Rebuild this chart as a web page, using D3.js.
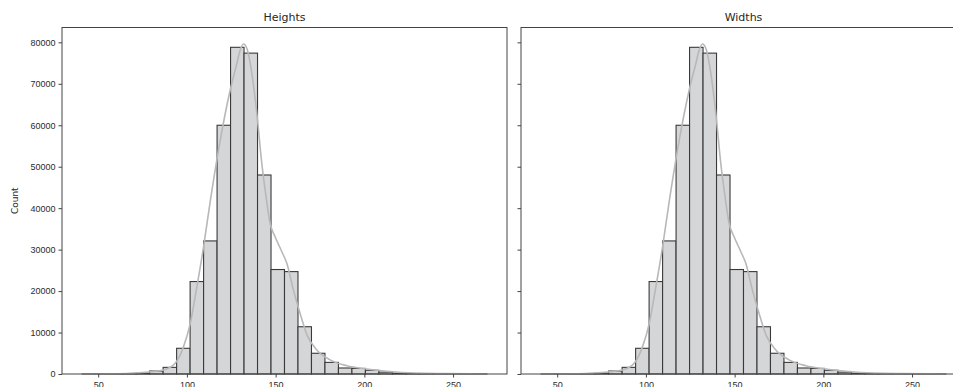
<!DOCTYPE html>
<html>
<head>
<meta charset="utf-8">
<script src="https://cdn.jsdelivr.net/npm/d3@7"></script>
<style>
    body { margin: 0; background: #fff; }
    svg { display: block; font-family: "DejaVu Sans", sans-serif; }
    .tick text { fill: #2b2b2b; font-size: 9px; }
    .axis path, .axis line { stroke: #444; }
</style>
</head>
<body>
<div id="chart-area"></div>
<script>

// Histogram data (30 bins)
let binEdges = [41, 48.6, 56.2, 63.8, 71.4, 79, 86.6, 94.2, 101.8, 109.4, 117, 124.6, 132.2, 139.8,
    147.4, 155, 162.6, 170.2, 177.8, 185.4, 193, 200.6, 208.2, 215.8, 223.4, 231, 238.6, 246.2,
    253.8, 261.4, 269];

let heightCounts = [10, 20, 40, 100, 200, 720, 1600, 6200, 22300, 32100, 60000, 78800, 77400, 48000,
    25200, 24700, 11400, 5000, 2800, 1450, 1350, 900, 450, 200, 100, 60, 40, 20, 15, 10];

let widthCounts = [10, 20, 40, 100, 200, 720, 1600, 6200, 22300, 32100, 60000, 78800, 77400, 48000,
    25200, 24700, 11400, 5000, 2800, 1450, 1350, 900, 450, 200, 100, 60, 40, 20, 15, 10];

// KDE curve
let kdeX = [41, 55, 66, 73, 80, 86.8, 93.4, 98.1, 101.9, 105.6, 109.4, 113.1, 117.8, 124.4, 128.2,
    130, 131.9, 134, 136.6, 139.4, 142.2, 144.6, 146.9, 149.7, 153.5, 156.3, 160, 163.8, 167.6,
    173.2, 180.7, 190.1, 201.4, 212.7, 229, 245, 269];
let kdeY = [5, 30, 120, 280, 550, 960, 2600, 6600, 12200, 21000, 30700, 41500, 54000, 68500, 75000,
    78100, 79600, 78300, 72500, 62900, 50800, 42800, 36300, 33100, 29500, 26700, 20300, 14600, 9500,
    5800, 3400, 2000, 1200, 650, 200, 80, 10];

let xTicks = [50, 100, 150, 200, 250];
let yTicks = [0, 10000, 20000, 30000, 40000, 50000, 60000, 70000, 80000];

let panels = [
    {title: "Heights", counts: heightCounts, left: 62, showLabels: true},
    {title: "Widths", counts: widthCounts, left: 521, showLabels: false}
];

// SVG drawing area
let width = 953, height = 387;
let panelWidth = 445;
let top0 = 27.5, bottom0 = 374;

let svg = d3.select("#chart-area").append("svg")
    .attr("width", width)
    .attr("height", height);

// Shared y scale (5% headroom above the KDE peak)
let y = d3.scaleLinear()
    .domain([0, d3.max(kdeY) * 1.05])
    .range([bottom0, top0]);

let bins = heightCounts.map(function (c, i) {
    return {x0: binEdges[i], x1: binEdges[i + 1]};
});

panels.forEach(function (p) {

    let x = d3.scaleLinear()
        .domain([29.6, 280.4])
        .range([p.left, p.left + panelWidth]);

    let g = svg.append("g");

    // Bars
    g.selectAll(".bar")
        .data(bins)
        .enter().append("rect")
        .attr("class", "bar")
        .attr("x", function (d) { return x(d.x0); })
        .attr("width", function (d) { return x(d.x1) - x(d.x0); })
        .attr("y", function (d, i) { return y(p.counts[i]); })
        .attr("height", function (d, i) { return y(0) - y(p.counts[i]); })
        .attr("fill", "#d5d6d8")
        .attr("stroke", "#3a3a3a")
        .attr("stroke-width", 1.1);

    // KDE line
    let line = d3.line()
        .x(function (d, i) { return x(kdeX[i]); })
        .y(function (d) { return y(d); })
        .curve(d3.curveMonotoneX);

    g.append("path")
        .attr("d", line(kdeY))
        .attr("fill", "none")
        .attr("stroke", "#b8b8b8")
        .attr("stroke-width", 1.6);

    // Frame
    g.append("rect")
        .attr("x", p.left)
        .attr("y", top0)
        .attr("width", panelWidth)
        .attr("height", bottom0 - top0)
        .attr("fill", "none")
        .attr("stroke", "#444")
        .attr("stroke-width", 1);

    // Axes
    let xAxis = d3.axisBottom(x)
        .tickValues(xTicks)
        .tickSize(3.5)
        .tickPadding(4)
        .tickFormat(d3.format("d"));

    let yAxis = d3.axisLeft(y)
        .tickValues(yTicks)
        .tickSize(3.5)
        .tickPadding(3)
        .tickFormat(p.showLabels ? d3.format("d") : "");

    g.append("g")
        .attr("class", "x-axis axis")
        .attr("transform", "translate(0," + bottom0 + ")")
        .call(xAxis)
        .call(function (a) { a.select(".domain").remove(); });

    g.append("g")
        .attr("class", "y-axis axis")
        .attr("transform", "translate(" + p.left + ",0)")
        .call(yAxis)
        .call(function (a) { a.select(".domain").remove(); });

    // Title
    g.append("text")
        .attr("x", p.left + panelWidth / 2)
        .attr("y", 21)
        .attr("text-anchor", "middle")
        .attr("font-size", 11)
        .attr("fill", "#262626")
        .text(p.title);
});

// Y label
svg.append("text")
    .attr("transform", "translate(18," + (top0 + bottom0) / 2 + ") rotate(-90)")
    .attr("text-anchor", "middle")
    .attr("font-size", 9)
    .attr("fill", "#262626")
    .text("Count");

</script>
</body>
</html>
